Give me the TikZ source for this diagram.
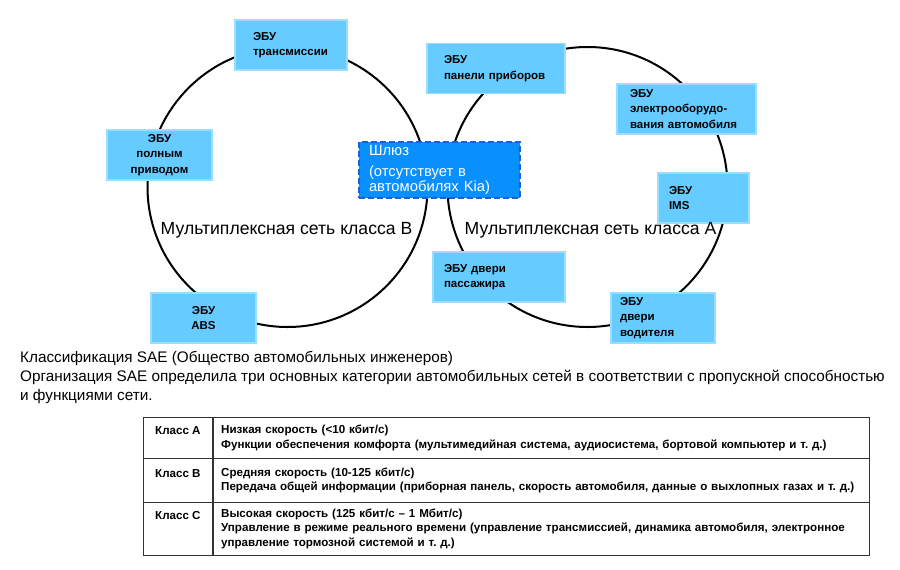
\documentclass[tikz,border=0pt]{standalone}
\usepackage{fontspec}
\setmainfont{Liberation Sans}
\frenchspacing
\definecolor{ecublue}{HTML}{66CCFF}
\definecolor{ecuedge}{HTML}{99DDFF}
\definecolor{gwblue}{HTML}{0A8FFF}
\definecolor{gwedge}{HTML}{1A5FE0}
\definecolor{tabline}{HTML}{333333}

\begin{document}
\begin{tikzpicture}[x=1pt,y=-1pt,
    ecu/.style={fill=ecublue, draw=ecuedge, line width=1.2pt, minimum height=50pt, inner ysep=0pt,
      font=\fontsize{11.5}{15.5}\selectfont\bfseries},
    gateway/.style={fill=gwblue, draw=gwedge, line width=2.2pt, dash pattern=on 6pt off 3pt,
      minimum width=161pt, minimum height=54pt, text width=141pt, inner xsep=10pt, align=left,
      text=white, font=\fontsize{14.8}{12}\selectfont},
    netlabel/.style={font=\fontsize{17.6}{19}\selectfont},
    cell/.style={draw=tabline, line width=0.8pt, anchor=north west, inner ysep=0pt,
      font=\fontsize{11.6}{14.5}\selectfont\bfseries}]
  \useasboundingbox (0,0) rectangle (900,570);

  % the two networks
  \coordinate (netB) at (287.5,187);
  \coordinate (netA) at (587.5,187);
  \draw[line width=2pt] (netB) circle (140);
  \draw[line width=2pt] (netA) circle (140);

  % class B units
  \node[ecu, minimum width=112pt, text width=76pt, inner xsep=18pt, align=left] (trans) at (291,45) {ЭБУ\\трансмиссии};
  \node[ecu, minimum width=105pt, align=center] (awd) at (159.5,155) {ЭБУ\\полным\\приводом};
  \node[ecu, minimum width=105pt, align=center] (abs) at (203.5,318) {ЭБУ\\ABS};

  % class A units
  \node[ecu, minimum width=138pt, text width=104pt, inner xsep=17pt, align=left] (panel) at (496,68.5) {ЭБУ\\панели приборов};
  \node[ecu, minimum width=139pt, text width=113pt, inner xsep=13pt, align=left] (elec) at (686.5,109) {ЭБУ\\электрооборудо-\\вания автомобиля};
  \node[ecu, minimum width=91pt, text width=69pt, inner xsep=11pt, align=left] (ims) at (703.5,198) {ЭБУ\\IMS};
  \node[ecu, minimum width=132pt, text width=110pt, inner xsep=11pt, align=left] (pass) at (499,277) {ЭБУ двери\\пассажира};
  \node[ecu, minimum width=104pt, text width=86pt, inner xsep=9pt, align=left] (driver) at (663,318) {ЭБУ\\двери\\водителя};

  % gateway between the networks
  \node[gateway] (gw) at (439.5,170) {Шлюз\\[9pt](отсутствует в\\автомобилях Kia)};

  \node[netlabel] (labB) at (286.5,230) {Мультиплексная сеть класса B};
  \node[netlabel] (labA) at (590.5,230) {Мультиплексная сеть класса A};

  \node[anchor=west, align=left, inner sep=0pt, font=\fontsize{15.3}{19}\selectfont] (sae) at (20,377)
    {Классификация SAE (Общество автомобильных инженеров)\\
     Организация SAE определила три основных категории автомобильных сетей в соответствии с пропускной способностью\\
     и функциями сети.};

  % table of classes
  \node[cell, minimum width=69pt, text height=17pt, text depth=24pt] (kA) at (143,417) {Класс A};
  \node[cell, minimum width=69pt, text height=19pt, text depth=25pt] (kB) at (143,458) {Класс B};
  \node[cell, minimum width=69pt, text height=17pt, text depth=36pt] (kC) at (143,502) {Класс C};
  \node[cell, minimum height=41pt, text width=640pt, inner xsep=8pt, align=left] (dA) at (kA.north east)
    {Низкая скорость (<10 кбит/с)\\
     Функции обеспечения комфорта (мультимедийная система, аудиосистема, бортовой компьютер и т. д.)};
  \node[cell, minimum height=44pt, text width=640pt, inner xsep=8pt, align=left] (dB) at (kB.north east)
    {Средняя скорость (10-125 кбит/с)\\
     Передача общей информации (приборная панель, скорость автомобиля, данные о выхлопных газах и т. д.)};
  \node[cell, minimum height=53pt, text width=640pt, inner xsep=8pt, align=left] (dC) at (kC.north east)
    {Высокая скорость (125 кбит/с – 1 Мбит/с)\\
     Управление в режиме реального времени (управление трансмиссией, динамика автомобиля, электронное\\
     управление тормозной системой и т. д.)};
\end{tikzpicture}
\end{document}
